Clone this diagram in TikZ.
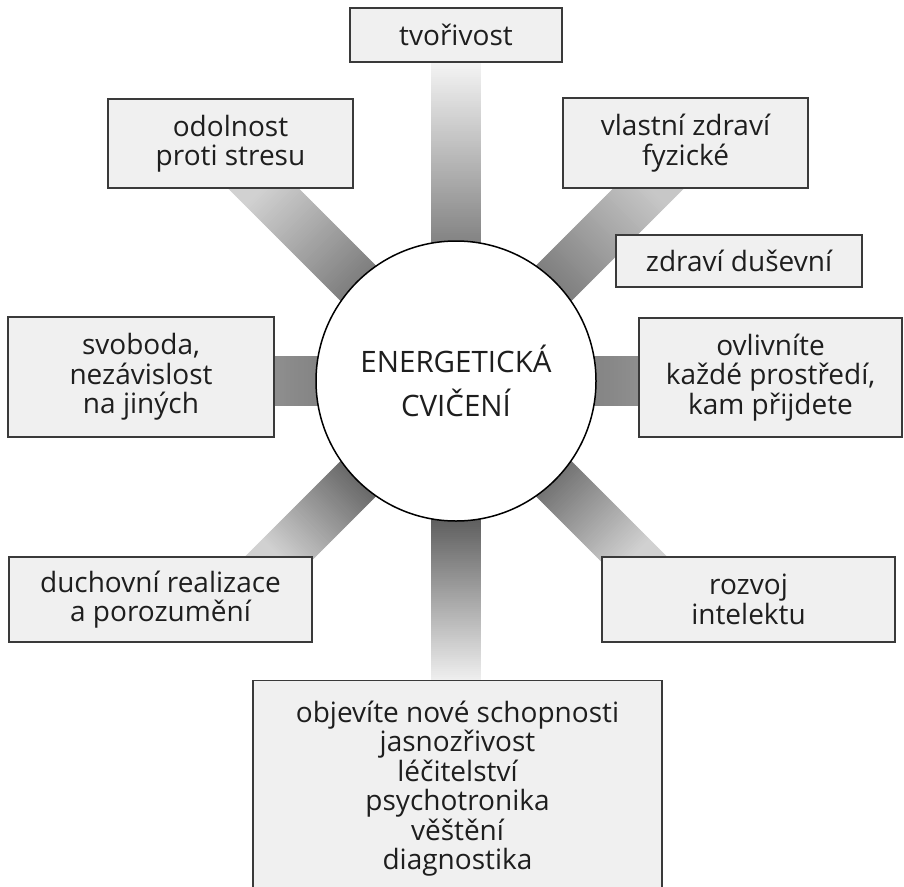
\documentclass[tikz,border=0pt]{standalone}
\usepackage{fontspec}
\setmainfont{Open Sans}
\usetikzlibrary{calc,backgrounds}

\definecolor{boxfill}{HTML}{F0F0F0}
\definecolor{ink}{HTML}{1E1E1E}
\definecolor{boxline}{HTML}{3A3A3A}

% A shaded spoke from the hub (c) outwards at angle #2 towards the anchor #1
% of a box. #3 = y when that anchor lies on a horizontal edge, x otherwise.
% The grey runs from black!#4 at the hub to black!#5 at the box edge; the
% spoke goes on a little under the box, which is drawn above it.
\newcommand\spoke[5]{%
  \path let \p1=($(#1)-(c.center)$) in
    \pgfextra{%
      \if#3y\pgfmathsetmacro\spokeedge{\y1/sin(#2)}%
      \else\pgfmathsetmacro\spokeedge{\x1/cos(#2)}\fi
      \global\let\spokeedge\spokeedge};
  \pgfmathtruncatemacro\spokelen{\spokeedge+40}
  \begin{scope}[shift={(c.center)}, rotate=#2]
    \foreach \r in {134,136,...,\spokelen} {
      \pgfmathsetmacro\spokeshade{#4-(#4-#5)*min(1,max(0,\r-140)/(\spokeedge-140))}
      \fill[black!\spokeshade] (\r,-25) rectangle (\r+2.6,25);
    }
  \end{scope}}

\begin{document}
\begin{tikzpicture}[x=1pt,y=1pt,
  every node/.style={font=\fontsize{28}{29.5}\selectfont, text=ink},
  topic/.style={draw=boxline, line width=1.1pt, fill=boxfill, align=center, inner sep=0pt},
  hub/.style={circle, draw=black, line width=1.5pt, fill=white, minimum size=280pt,
    align=center, inner sep=0pt, font=\fontsize{29.5}{44}\selectfont}]
\useasboundingbox (0,0) rectangle (904,-886);

% central hub
\node[hub] (c) at (456,-381) {ENERGETICKÁ\\CVIČENÍ};

% surrounding topics
\node[topic, minimum width=212pt, minimum height=54pt] (t) at (456,-35) {tvořivost};
\node[topic, minimum width=245pt, minimum height=89pt] (o) at (230.5,-143.5) {odolnost\\proti stresu};
\node[topic, minimum width=245pt, minimum height=90pt] (f) at (685.5,-143) {vlastní zdraví\\fyzické};
\node[topic, minimum width=246pt, minimum height=52pt] (d) at (739,-261) {zdraví duševní};
\node[topic, minimum width=266pt, minimum height=120pt] (s) at (141,-377) {svoboda,\\nezávislost\\na jiných};
\node[topic, minimum width=263pt, minimum height=119pt] (v) at (770.5,-377.5) {ovlivníte\\každé prostředí,\\kam přijdete};
\node[topic, minimum width=303pt, minimum height=85pt] (r) at (160.5,-599.5) {duchovní realizace\\a porozumění};
\node[topic, minimum width=293pt, minimum height=85pt] (i) at (748.5,-599.5) {rozvoj\\intelektu};
\node[topic, minimum width=409pt, minimum height=216pt, anchor=north] (b) at (457.5,-680)
  {objevíte nové schopnosti\\jasnozřivost\\léčitelství\\psychotronika\\věštění\\diagnostika};

% spokes behind the hub and the boxes
\begin{pgfonlayer}{background}
  \spoke{t.south}{90}{y}{48}{4}
  \spoke{f.south}{45}{y}{50}{22}
  \spoke{v.west}{0}{x}{48}{44}
  \spoke{i.north}{-45}{y}{54}{18}
  \spoke{b.north}{-90}{y}{62}{6}
  \spoke{r.north}{-135}{y}{58}{18}
  \spoke{s.east}{180}{x}{48}{44}
  \spoke{o.south}{135}{y}{50}{18}
\end{pgfonlayer}
\end{tikzpicture}
\end{document}
